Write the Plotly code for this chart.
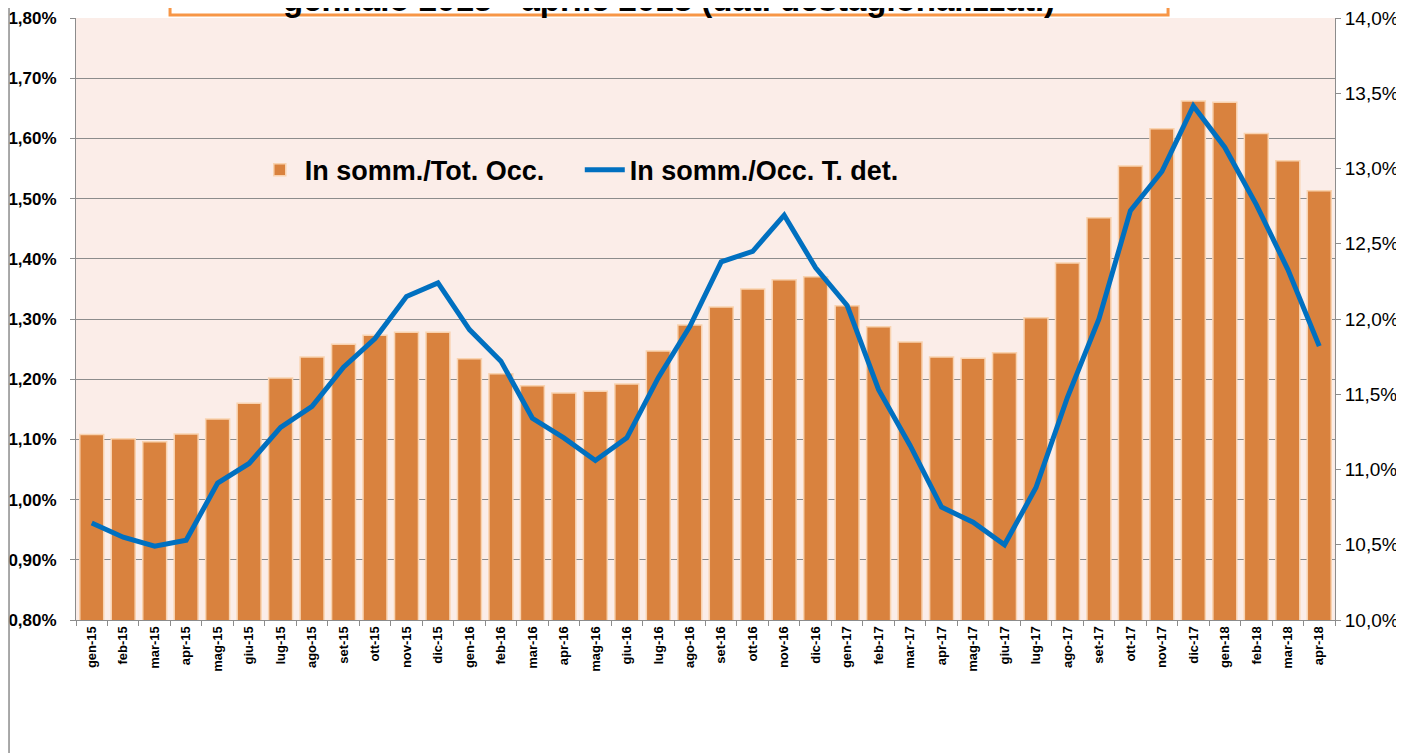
import plotly.graph_objects as go

MONTHS = [
    "gen-15", "feb-15", "mar-15", "apr-15", "mag-15", "giu-15", "lug-15", "ago-15",
    "set-15", "ott-15", "nov-15", "dic-15", "gen-16", "feb-16", "mar-16", "apr-16",
    "mag-16", "giu-16", "lug-16", "ago-16", "set-16", "ott-16", "nov-16", "dic-16",
    "gen-17", "feb-17", "mar-17", "apr-17", "mag-17", "giu-17", "lug-17", "ago-17",
    "set-17", "ott-17", "nov-17", "dic-17", "gen-18", "feb-18", "mar-18", "apr-18",
]

# In somm./Tot. Occ. (%), left axis
TOT_OCC = [
    1.108, 1.101, 1.096, 1.109, 1.134, 1.160, 1.202, 1.237,
    1.258, 1.273, 1.278, 1.278, 1.234, 1.209, 1.189, 1.177,
    1.180, 1.192, 1.247, 1.290, 1.320, 1.350, 1.365, 1.370,
    1.322, 1.287, 1.262, 1.237, 1.235, 1.244, 1.302, 1.393,
    1.468, 1.554, 1.616, 1.662, 1.660, 1.608, 1.563, 1.513,
]

# In somm./Occ. T. det. (%), right axis
OCC_TDET = [
    10.645, 10.55, 10.49, 10.53, 10.91, 11.04, 11.28, 11.42,
    11.68, 11.87, 12.15, 12.24, 11.93, 11.72, 11.34, 11.21,
    11.06, 11.21, 11.61, 11.95, 12.38, 12.45, 12.69, 12.34,
    12.09, 11.53, 11.16, 10.75, 10.65, 10.50, 10.88, 11.48,
    12.00, 12.72, 12.98, 13.415, 13.14, 12.76, 12.33, 11.82,
]

TITLE = "gennaio 2015 - aprile 2018 (dati destagionalizzati)"

BAR = "#D9823E"
BAR_EDGE = "#F9D3B0"
LINE = "#0070C0"
GRID = "#8C8C8C"
FONT = "Liberation Sans, Arial, sans-serif"

fig = go.Figure()
fig.add_trace(go.Bar(
    x=MONTHS, y=TOT_OCC, name="In somm./Tot. Occ.",
    marker=dict(color=BAR, line=dict(color=BAR_EDGE, width=1.5)),
))
fig.add_trace(go.Scatter(
    x=MONTHS, y=OCC_TDET, name="In somm./Occ. T. det.", yaxis="y2",
    mode="lines", line=dict(color=LINE, width=5),
))

# the page body adds 8px around the figure, so the figure is a bit smaller
fig.update_layout(
    width=1396, height=745,
    margin=dict(l=68, r=69, t=10, b=133, autoexpand=False),
    paper_bgcolor="white",
    plot_bgcolor="#FBEDE8",
    font=dict(family=FONT, color="black"),
    separators=",.",
    bargap=0.24,
    showlegend=True,
    legend=dict(
        orientation="h", x=0.142, y=0.747, xanchor="left", yanchor="middle",
        bgcolor="rgba(0,0,0,0)", font=dict(size=27, family=FONT, weight="bold"),
        entrywidth=270, entrywidthmode="pixels", itemwidth=40,
    ),
    xaxis=dict(
        type="category", tickangle=-90, tickson="boundaries",
        ticks="outside", ticklen=5, tickcolor=GRID,
        showline=True, linecolor=GRID, linewidth=1,
        tickfont=dict(size=13, family=FONT, weight="bold"),
        showgrid=False, automargin=False,
    ),
    yaxis=dict(
        range=[0.8, 1.8], dtick=0.1, tickformat=".2f", ticksuffix="%",
        ticks="outside", ticklen=5, tickcolor=GRID, ticklabelstandoff=10,
        showline=True, linecolor=GRID, linewidth=1,
        gridcolor=GRID, gridwidth=1, zeroline=False,
        tickfont=dict(size=17, family=FONT, weight="bold"),
        automargin=False, ticklabeloverflow="allow",
    ),
    yaxis2=dict(
        overlaying="y", side="right",
        range=[10, 14], dtick=0.5, tickformat=".1f", ticksuffix="%",
        ticks="outside", ticklen=5, tickcolor=GRID,
        showline=True, linecolor=GRID, linewidth=1,
        showgrid=False, zeroline=False,
        tickfont=dict(size=19, family=FONT),
        automargin=False, ticklabeloverflow="allow",
    ),
)

# chart title box, cut by the top of the frame as in the original
fig.add_shape(
    type="rect", xref="paper", yref="paper",
    x0=0.0747, x1=0.8674, y0=1.005, y1=1.2,
    fillcolor="white", line=dict(color="#F79646", width=3),
)
fig.add_annotation(
    xref="paper", yref="paper", x=0.471, y=0.9975, xanchor="center", yanchor="bottom",
    text=f"<b>{TITLE}</b>", showarrow=False,
    font=dict(size=33, family=FONT, color="black"),
)

# left edge of the chart frame
fig.add_shape(
    type="line", xref="paper", yref="paper",
    x0=-0.0532, x1=-0.0532, y0=-0.3, y1=1.1,
    line=dict(color=GRID, width=1.5),
)

fig.write_html("out.html")
